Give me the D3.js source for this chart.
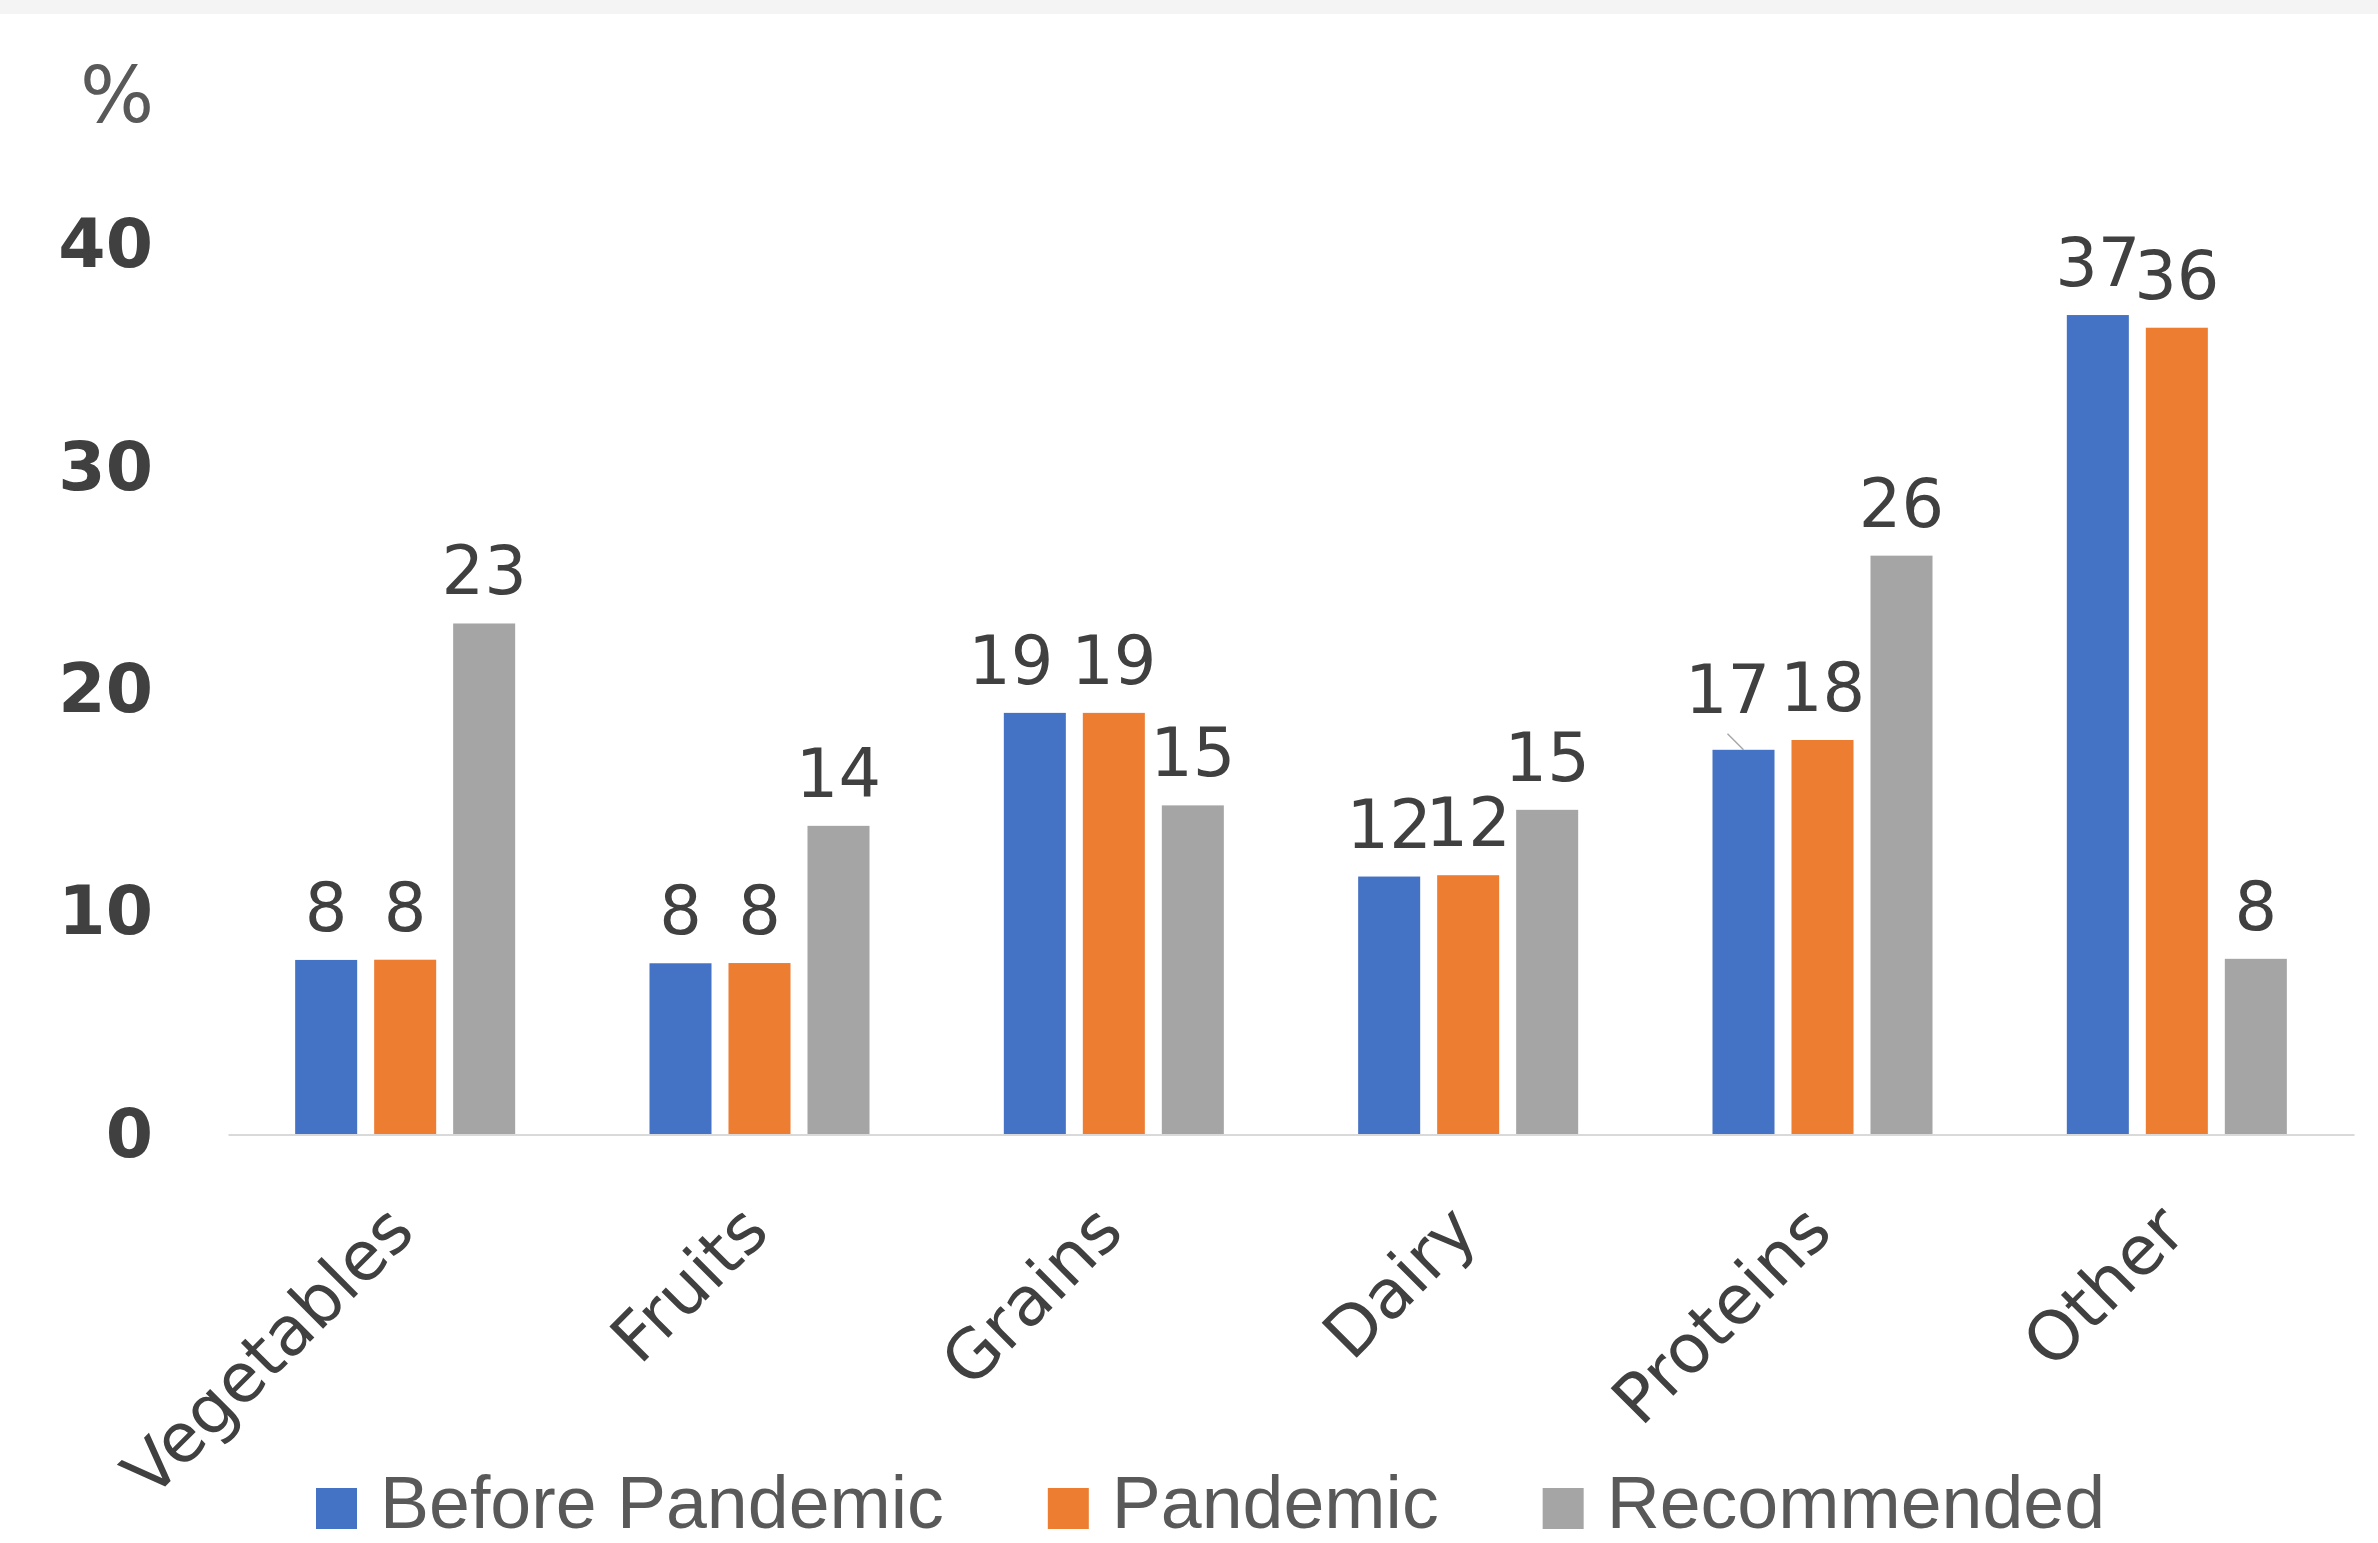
<!DOCTYPE html>
<html>
<head>
<meta charset="utf-8">
<script src="https://cdn.jsdelivr.net/npm/d3@7"></script>
<style>
  html, body { margin: 0; padding: 0; background: #ffffff; }
  svg { display: block; }
</style>
</head>
<body>
<svg id="chart" width="2378" height="1543"></svg>
<script>
// ---- data ----
const categories = ["Vegetables", "Fruits", "Grains", "Dairy", "Proteins", "Other"];
const seriesNames = ["Before Pandemic", "Pandemic", "Recommended"];
const beforePandemic = [7.85, 7.7, 18.96, 11.6, 17.3, 36.85];
const pandemic = [7.86, 7.71, 18.96, 11.66, 17.74, 36.28];
const recommended = [22.98, 13.88, 14.8, 14.6, 26.03, 7.9];
const yTicks = [0, 10, 20, 30, 40];
const yUnit = "%";

const seriesValues = [beforePandemic, pandemic, recommended];
const colors = ["#4472C4", "#ED7D31", "#A5A5A5"];

const W = 2378, H = 1543;
const svg = d3.select("#chart");

// top strip
svg.append("rect").attr("x", 0).attr("y", 0).attr("width", W).attr("height", 14).attr("fill", "#f4f4f4");

const plotLeft = 228, plotRight = 2354, baseY = 1134.5, topY = 245;

const x0 = d3.scaleBand().domain(categories).range([plotLeft, plotRight]).paddingInner(0).paddingOuter(0);
const groupW = 237;
const x1 = d3.scaleBand().domain(seriesNames).range([-groupW / 2, groupW / 2]).paddingInner(0.215).paddingOuter(0.1075);
const y = d3.scaleLinear().domain([0, 40]).range([baseY, topY]);

const rows = categories.map((c, i) => ({
  cat: c,
  vals: seriesNames.map((s, j) => ({ cat: c, series: s, j: j, v: seriesValues[j][i] }))
}));

// bars
const g = svg.append("g");
const groups = g.selectAll("g.cat").data(rows).join("g")
  .attr("class", "cat")
  .attr("transform", d => `translate(${x0(d.cat) + x0.bandwidth() / 2},0)`);

groups.selectAll("rect").data(d => d.vals).join("rect")
  .attr("x", d => x1(d.series))
  .attr("width", x1.bandwidth())
  .attr("y", d => y(d.v))
  .attr("height", d => baseY - y(d.v))
  .attr("fill", d => colors[d.j]);

// baseline axis
const xAxis = d3.axisBottom(x0).tickSize(0).tickFormat("");
const xAxisG = svg.append("g").attr("transform", `translate(0,${baseY})`).call(xAxis);
xAxisG.select(".domain").attr("stroke", "#d9d9d9").attr("stroke-width", 2.2);

// category labels (rotated)
svg.append("g").selectAll("text").data(categories).join("text")
  .attr("transform", d => `translate(${x0(d) + x0.bandwidth() / 2 + 12},${baseY + 100}) rotate(-45)`)
  .attr("text-anchor", "end")
  .attr("font-family", "DejaVu Sans")
  .attr("font-size", 68)
  .attr("fill", "#404040")
  .text(d => d);

// y axis labels
const yAxis = d3.axisLeft(y).tickValues(yTicks).tickSize(0).tickPadding(75).tickFormat(d3.format("d"));
const yAxisG = svg.append("g").attr("transform", `translate(${plotLeft},0)`).call(yAxis);
yAxisG.select(".domain").remove();
yAxisG.selectAll("text")
  .attr("font-family", "DejaVu Sans")
  .attr("font-weight", "bold")
  .attr("font-size", 68)
  .attr("fill", "#404040");

// unit label
svg.append("text").attr("x", 154).attr("y", 122).attr("text-anchor", "end")
  .attr("font-family", "DejaVu Sans").attr("font-size", 78).attr("fill", "#595959").text(yUnit);

// data labels (two labels nudged as in the original to avoid overlap)
const fmt = d3.format(".0f");
const nudge = (d) => {
  if (d.cat === "Proteins" && d.j === 0) return { dx: -16, dy: -8 };
  if (d.cat === "Grains" && d.j === 0) return { dx: -24, dy: 0 };
  return { dx: 0, dy: 0 };
};
groups.selectAll("text.lbl").data(d => d.vals).join("text")
  .attr("class", "lbl")
  .attr("x", d => x1(d.series) + x1.bandwidth() / 2 + nudge(d).dx)
  .attr("y", d => y(d.v) - 29 + nudge(d).dy)
  .attr("text-anchor", "middle")
  .attr("font-family", "DejaVu Sans")
  .attr("font-size", 67)
  .attr("fill", "#404040")
  .text(d => fmt(d.v));

// leader line for nudged Proteins label
groups.filter(d => d.cat === "Proteins").selectAll("line.leader").data(d => d.vals.filter(v => v.j === 0)).join("line")
  .attr("class", "leader")
  .attr("x1", d => x1(d.series) + x1.bandwidth() / 2 - 16)
  .attr("y1", d => y(d.v) - 16)
  .attr("x2", d => x1(d.series) + x1.bandwidth() / 2)
  .attr("y2", d => y(d.v))
  .attr("stroke", "#a6a6a6").attr("stroke-width", 1.5);

// legend
const legend = svg.append("g");
let lx = 316;
seriesNames.forEach((s, j) => {
  legend.append("rect").attr("x", lx).attr("y", 1488).attr("width", 41).attr("height", 41).attr("fill", colors[j]);
  const t = legend.append("text").attr("x", lx + 64).attr("y", 1528)
    .attr("font-family", "Liberation Sans").attr("font-size", 73.5).attr("fill", "#595959").text(s);
  lx = lx + 64 + t.node().getComputedTextLength() + 104;
});
</script>
</body>
</html>
